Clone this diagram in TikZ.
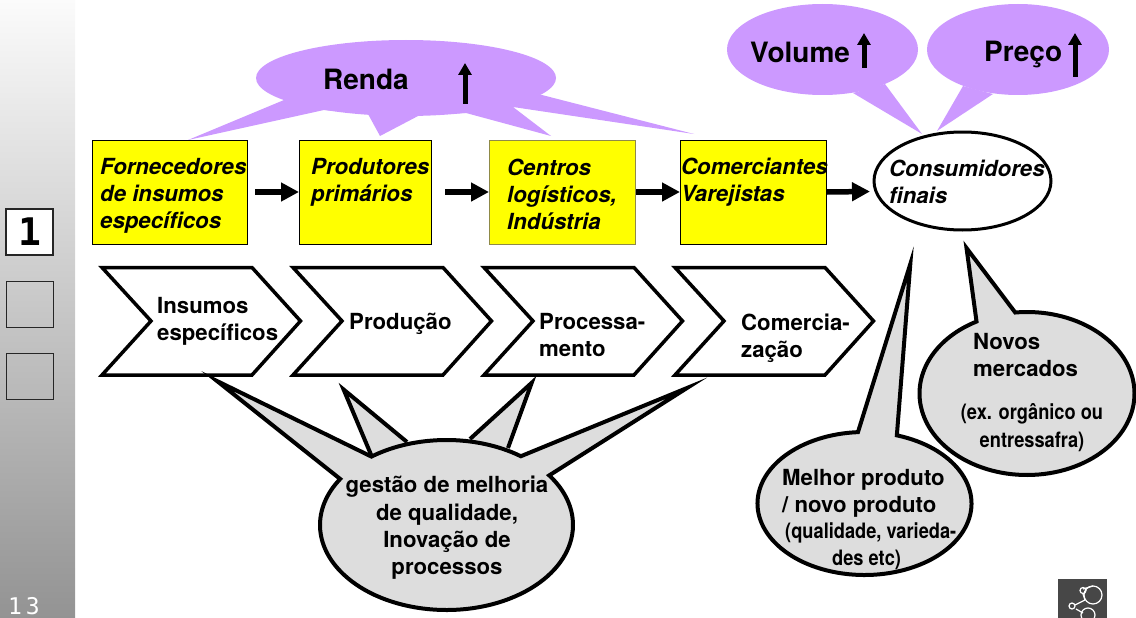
\documentclass[tikz,border=0pt]{standalone}
\usepackage{fontspec}
\setmainfont{TeX Gyre Heros}
\newfontfamily\monof{DejaVu Sans Mono}
\newfontfamily\narrowf[FakeStretch=0.86,BoldFont={TeX Gyre Heros Bold}]{TeX Gyre Heros}
\usetikzlibrary{arrows.meta,shapes.geometric}
\definecolor{purp}{HTML}{CC99FF}
\definecolor{calg}{HTML}{DDDDDD}
\definecolor{sidetop}{HTML}{FBFBFB}
\definecolor{sidebot}{HTML}{939393}
\definecolor{yfill}{RGB}{255,255,0}
\tikzset{
  ybox/.style={draw=black,line width=1pt,fill=yfill,inner sep=0pt,anchor=north west,minimum height=104pt},
  flowarrow/.style={line width=5.5pt,-{Triangle[length=18pt,width=18pt]}},
  uparrow/.style={line width=5pt,-{Triangle[length=12pt,width=13pt]}},
  chev/.style={draw=black,line width=3.5pt,fill=white,line join=miter},
  callout/.style={draw=black,line width=4pt,fill=calg,line join=miter,miter limit=25},
  bubble/.style={fill=purp,draw=none},
  sidebox/.style={draw=black!85,line width=1pt,minimum width=47pt,minimum height=46pt,inner sep=0pt},
  tb/.style={font=\fontsize{22.2}{27}\bfseries\selectfont,inner sep=0pt,align=left,anchor=west},
  ti/.style={font=\fontsize{22.2}{27}\bfseries\itshape\selectfont,inner sep=0pt,align=left,anchor=west},
  tc/.style={font=\fontsize{22.2}{27.3}\bfseries\selectfont,inner sep=0pt,align=center},
  ts/.style={font=\narrowf\fontsize{21.2}{27.5}\bfseries\selectfont,inner sep=0pt,align=center},
  big/.style={font=\fontsize{28}{30}\bfseries\selectfont,inner sep=0pt},
}
\begin{document}
\begin{tikzpicture}[x=1pt,y=1pt,yscale=-1]
\useasboundingbox (0,0) rectangle (1136,618);
% sidebar
\fill[top color=sidetop,bottom color=sidebot] (0,0) rectangle (75,618);
\node[sidebox,fill=white,line width=1.6pt] (s1) at (29.5,232) {\monof\fontsize{38}{38}\bfseries\selectfont 1};
\node[sidebox] (s2) at (29.5,304) {};
\node[sidebox] (s3) at (29.5,376) {};
\node[inner sep=0pt,text=white,font=\monof\fontsize{23}{23}\selectfont] (pg) at (24,606) {1\hspace{4pt}3};
% purple bubbles
\fill[bubble] (406,78) ellipse [x radius=150pt,y radius=38pt];
\fill[bubble] (284,100) -- (188,140) -- (324,110) -- (368,114) -- (380,136) -- (420,115) -- (466,113) -- (551,136) -- (513,107) -- (694,134) -- (542,95) -- (420,80) -- cycle;
\fill[bubble] (822.5,49.5) ellipse [x radius=95.5pt,y radius=45.5pt];
\fill[bubble] (853,93) -- (922,134) -- (885,84) -- cycle;
\fill[bubble] (1018,49.5) ellipse [x radius=91pt,y radius=45.5pt];
\fill[bubble] (963,86) -- (937,131) -- (993,94) -- cycle;
% boxes
\node[ybox,minimum width=155pt] (b1) at (92,140) {};
\node[ybox,minimum width=132pt] (b2) at (299,140) {};
\node[ybox,draw=black!50!yellow,minimum width=146pt] (b3) at (489,140) {};
\node[ybox,minimum width=146pt] (b4) at (680,140) {};
\node[ellipse,draw=black,line width=3pt,fill=white,minimum width=177pt,minimum height=98pt,inner sep=0pt] (cons) at (962.5,181) {};
% connectors
\draw[flowarrow] ([xshift=7pt,yshift=-0.5pt]b1.east) -- ([yshift=-0.5pt]b2.west);
\draw[flowarrow] ([xshift=13pt,yshift=-0.5pt]b2.east) -- ([yshift=-0.5pt]b3.west);
\draw[flowarrow] ([yshift=-0.5pt]b3.east) -- ([yshift=-0.5pt]b4.west);
\draw[flowarrow] ([yshift=-0.5pt]b4.east) -- ([xshift=-2.5pt,yshift=10.5pt]cons.west);
% chevrons
\foreach \d in {0,191,382,573}{
  \draw[chev,shift={(\d,0)}] (102,267.5) -- (252,267.5) -- (300.5,321) -- (252,375) -- (102,375) -- (151,321) -- cycle;
}
% grey callouts
\coordinate (g) at (446.5,525);
\path (g) ++(233.6:126.5pt and 85pt) coordinate (g2);
\path (g) ++(324.3:126.5pt and 85pt) coordinate (g7);
\coordinate (t1) at (217,381);
\coordinate (t2) at (343.6,389.5);
\coordinate (t3) at (531.7,382.8);
\coordinate (t4) at (687,388);
\coordinate (p2a) at (372,457); \coordinate (p2b) at (407,442);
\coordinate (p3a) at (470,439); \coordinate (p3b) at (508,448);
\draw[callout] (p2a) -- (t2) -- (p2b);
\draw[callout] (p3a) -- (t3) -- (p3b);
\draw[callout] (g2)
  arc[start angle=233.6,end angle=306,x radius=126.5pt,y radius=85pt] -- (t4) -- (g7)
  arc[start angle=324.3,end angle=572.8,x radius=126.5pt,y radius=85pt] -- (t1) -- cycle;
% Novos mercados
\coordinate (n) at (1027,393.5);
\path (n) ++(263.7:107.5pt and 81.5pt) coordinate (n1);
\coordinate (tn) at (966.5,248);
\draw[callout] (n1) arc[start angle=263.7,end angle=602,x radius=107.5pt,y radius=81.5pt] -- (tn) -- cycle;
% Melhor produto
\coordinate (m) at (864.5,503.5);
\path (m) ++(287.6:107pt and 71.5pt) coordinate (m1);
\coordinate (tm) at (910.3,264);
\draw[callout] (m1) arc[start angle=287.6,end angle=626.5,x radius=107pt,y radius=71.5pt] -- (tm) -- cycle;
% up arrows
\coordinate (ua1) at (465,104); \coordinate (ua2) at (465,63);
\coordinate (va1) at (864,68);  \coordinate (va2) at (864,33);
\coordinate (pa1) at (1075,77); \coordinate (pa2) at (1075,33);
\draw[uparrow] (ua1) -- (ua2);
\draw[uparrow] (va1) -- (va2);
\draw[uparrow] (pa1) -- (pa2);
% text
\node[big,anchor=west] (trenda) at (323,79.5) {Renda};
\node[big,anchor=west] (tvol) at (750,52) {Volume};
\node[big,anchor=west] (tpre) at (984,55) {Preço};
\node[ti] (t1a) at (100,196) {Fornecedores\\de insumos\\específicos};
\node[ti] (t2a) at (311,182.5) {Produtores\\primários};
\node[ti] (t3a) at (507,194) {Centros\\logísticos,\\Indústria};
\node[ti] (t4a) at (681,182.5) {Comerciantes\\Varejistas};
\node[ti] (t5a) at (889,181.5) {Consumidores\\finais};
\node[tb] (c1) at (157,321) {Insumos\\específicos};
\node[tb] (c2) at (349,324) {Produção};
\node[tb] (c3) at (539,335.5) {Processa-\\mento};
\node[tb] (c4) at (741,338.5) {Comercia-\\zação};
\node[tc] (tg) at (447,528) {gestão de melhoria\\de qualidade,\\Inovação de\\processos};
\node[tb] (tn1) at (973,355.5) {Novos\\mercados};
\node[ts] (tn2) at (1032,427.5) {(ex. orgânico ou\\entressafra)};
\node[tb] (tm1) at (782,493.5) {Melhor produto\\/ novo produto};
\node[ts,anchor=west] (tm2) at (785,532.5) {(qualidade, varieda-};
\node[ts,anchor=west] (tm3) at (832,559.5) {des etc)};
% emblem
\fill[black!72] (1058,579) rectangle (1107,618);
\draw[white,line width=1.2pt] (1093,595) circle [radius=9pt];
\draw[white,line width=1.2pt] (1088,615) circle [radius=7pt];
\draw[white,line width=1.2pt] (1083,589) -- (1093,586);
\draw[white,line width=1.2pt] (1083,594) -- (1085,600) -- (1075,605) (1076,609) -- (1083,613);
\draw[white,line width=1.2pt] (1083,590.5) circle [radius=3pt];
\draw[white,line width=1.2pt] (1072,606) circle [radius=3pt];
\end{tikzpicture}
\end{document}
